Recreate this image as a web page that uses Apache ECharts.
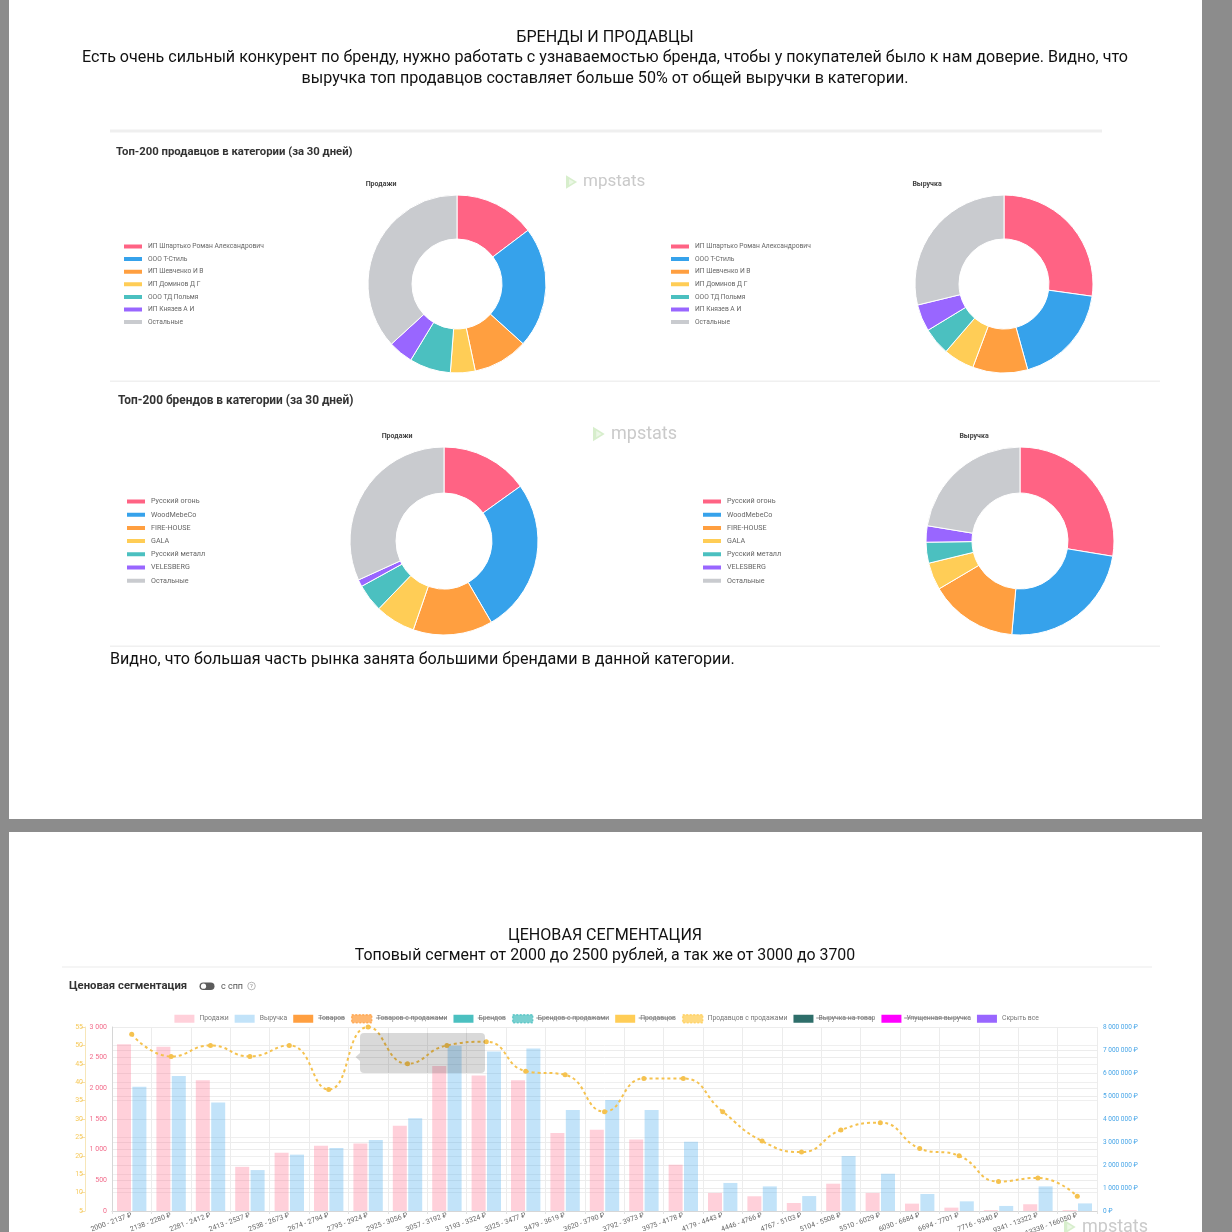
<!DOCTYPE html>
<html>
<head>
<meta charset="utf-8">
<script src="https://cdn.jsdelivr.net/npm/echarts@6.0.0/dist/echarts.min.js"></script>
<style>
html,body{margin:0;padding:0;background:#8c8c8c;}
#wrap{position:relative;width:1232px;height:1232px;overflow:hidden;background:#8c8c8c;}
.page{position:absolute;background:#fff;}
#chart{position:absolute;left:0;top:0;width:1232px;height:1232px;}
</style>
</head>
<body>
<div id="wrap">
  <div class="page" style="left:9px;top:0;width:1193px;height:819px"></div>
  <div class="page" style="left:9px;top:832px;width:1193px;height:400px"></div>
  <div id="chart"></div>
</div>
<script>
// ---------- DATA ----------
const pieColors = ['#FF6384', '#36A2EB', '#FF9F40', '#FFCD56', '#4BC0C0', '#9966FF', '#C9CBCF'];

const sellerNames = ['ИП Шпартько Роман Александрович', 'ООО Т-Стиль', 'ИП Шевченко И В', 'ИП Доминов Д Г', 'ООО ТД Польмя', 'ИП Князев А И', 'Остальные'];
const sellerSalesShare = [14.7, 22.0, 10.0, 4.5, 7.5, 4.5, 36.8];
const sellerRevenueShare = [27.2, 18.5, 10.0, 5.6, 5.0, 4.9, 28.8];

const brandNames = ['Русский огонь', 'WoodMebeCo', 'FIRE-HOUSE', 'GALA', 'Русский металл', 'VELESBERG', 'Остальные'];
const brandSalesShare = [15.1, 26.5, 13.7, 6.9, 4.8, 1.2, 31.8];
const brandRevenueShare = [27.6, 23.8, 15.1, 4.7, 3.6, 2.8, 22.4];

const priceRanges = ['2000 - 2137 ₽', '2138 - 2280 ₽', '2281 - 2412 ₽', '2413 - 2537 ₽', '2538 - 2673 ₽',
  '2674 - 2794 ₽', '2795 - 2924 ₽', '2925 - 3056 ₽', '3057 - 3192 ₽', '3193 - 3324 ₽', '3325 - 3477 ₽',
  '3479 - 3619 ₽', '3620 - 3790 ₽', '3792 - 3973 ₽', '3975 - 4178 ₽', '4179 - 4443 ₽', '4446 - 4766 ₽',
  '4767 - 5103 ₽', '5104 - 5508 ₽', '5510 - 6029 ₽', '6030 - 6684 ₽', '6694 - 7701 ₽', '7716 - 9340 ₽',
  '9341 - 13322 ₽', '13338 - 166050 ₽'];
const salesByRange = [2720, 2680, 2130, 720, 950, 1065, 1100, 1390, 2365, 2210, 2130, 1270, 1325, 1165, 755,
  295, 240, 130, 445, 295, 120, 55, 15, 110, 15];
const revenueByRange = [5400000, 5870000, 4720000, 1780000, 2450000, 2740000, 3090000, 4030000, 7190000,
  6930000, 7060000, 4390000, 4830000, 4390000, 3010000, 1220000, 1070000, 650000, 2390000, 1620000,
  740000, 420000, 220000, 1070000, 330000];
const sellersWithSales = [53, 47, 50, 47, 50, 38, 55, 45, 50, 51, 43, 42, 32, 41, 41, 32, 24, 21, 27, 29, 22, 20, 13, 14, 9];

const sellersTicks = {min: 5, max: 55, step: 5};
const salesTicks = {min: 0, max: 3000, step: 500};
const revenueTicks = {min: 0, max: 8000000, step: 1000000};

const segLegend = [
  {name: 'Продажи', color: 'rgba(255,99,132,0.3)', off: false},
  {name: 'Выручка', color: 'rgba(54,162,235,0.3)', off: false},
  {name: 'Товаров', color: '#FF9F40', off: true},
  {name: 'Товаров с продажами', color: '#FF9F40', dashed: true, off: true},
  {name: 'Брендов', color: '#4BC0C0', off: true},
  {name: 'Брендов с продажами', color: '#4BC0C0', dashed: true, off: true},
  {name: 'Продавцов', color: '#FFCD56', off: true},
  {name: 'Продавцов с продажами', color: '#FFCD56', dashed: true, off: false},
  {name: 'Выручка на товар', color: '#2E6E6A', off: true},
  {name: 'Упущенная выручка', color: '#FF00FF', off: true},
  {name: 'Скрыть все', color: '#9966FF', off: false}
];

// ---------- HELPERS ----------
const FONT = 'Roboto';
const BIG = 16.1;
function spaced(v) { return String(Math.round(v)).replace(/\B(?=(\d{3})+(?!\d))/g, ' '); }
function pieData(names, vals) {
  return names.map((n, i) => ({name: n, value: vals[i], itemStyle: {color: pieColors[i]}}));
}
function pieSeries(name, center, radius, names, vals) {
  return {
    type: 'pie', name: name, center: center, radius: radius, silent: true,
    startAngle: 90, clockwise: true,
    label: {show: false}, labelLine: {show: false},
    itemStyle: {borderColor: '#fff', borderWidth: 1},
    emphasis: {disabled: true},
    data: pieData(names, vals)
  };
}
function pieLegend(left, top, names, gap, fs) {
  return {
    orient: 'vertical', left: left, top: top, padding: 0, icon: 'rect',
    itemWidth: 20, itemHeight: 6, itemGap: gap, selectedMode: false,
    textStyle: {fontSize: fs, color: '#666', lineHeight: 8, fontFamily: FONT},
    data: names
  };
}

// measure legend texts for the strike-through lines
const LEG_FS = 6.8, LEG_TOP = 1014, LEG_IW = 20, LEG_IH = 8, LEG_GAP = 6, LEG_CENTER = 605.5;
const mctx = document.createElement('canvas').getContext('2d');
mctx.font = LEG_FS + 'px ' + FONT;
const widths = segLegend.map(it => mctx.measureText(it.name).width);
const totalW = widths.reduce((s, w) => s + LEG_IW + 5 + w, 0) + LEG_GAP * (segLegend.length - 1);
const LEG_LEFT = LEG_CENTER - totalW / 2;
let cx = LEG_LEFT;
const strikes = [];
segLegend.forEach((it, i) => {
  const tx = cx + LEG_IW + 5;
  if (it.off) {
    strikes.push({type: 'line', z: 50, silent: true,
      shape: {x1: tx, y1: LEG_TOP + LEG_IH / 2, x2: tx + widths[i], y2: LEG_TOP + LEG_IH / 2},
      style: {stroke: '#777', lineWidth: 0.8}});
  }
  cx = tx + widths[i] + LEG_GAP;
});

function txt(x, y, text, size, opts) {
  opts = opts || {};
  return {type: 'text', x: x, y: y, z: 20, silent: true,
    style: {text: text, fill: opts.fill || '#111', fontSize: size, fontFamily: FONT,
      fontWeight: opts.bold ? 'bold' : 'normal', align: opts.align || 'left', verticalAlign: 'middle'}};
}
function watermark(x, y, size) {
  return [
    {type: 'polygon', z: 20, silent: true, shape: {points: [[x, y - size * 0.4], [x + size * 0.65, y], [x, y + size * 0.4]]},
      style: {fill: 'rgba(140,205,110,0.35)'}},
    {type: 'polygon', z: 20, silent: true, shape: {points: [[x + size * 0.18, y - size * 0.18], [x + size * 0.48, y], [x + size * 0.18, y + size * 0.18]]},
      style: {fill: 'rgba(255,255,255,0.5)'}},
    txt(x + size * 1.0, y, 'mpstats', size, {fill: '#cacaca'})
  ];
}

// ---------- GRAPHIC ----------
const graphics = [
  txt(605, 38, 'БРЕНДЫ И ПРОДАВЦЫ', BIG, {align: 'center'}),
  txt(605, 58, 'Есть очень сильный конкурент по бренду, нужно работать с узнаваемостью бренда, чтобы у покупателей было к нам доверие. Видно, что', BIG, {align: 'center'}),
  txt(605, 79, 'выручка топ продавцов составляет больше 50% от общей выручки в категории.', BIG, {align: 'center'}),
  {type: 'rect', z: 1, silent: true, shape: {x: 110, y: 129.5, width: 992, height: 3}, style: {fill: '#efefef'}},
  txt(116, 152, 'Топ-200 продавцов в категории (за 30 дней)', 11.3, {bold: true, fill: '#333'}),
  txt(381, 184, 'Продажи', 7, {bold: true, fill: '#444', align: 'center'}),
  txt(927, 184, 'Выручка', 7, {bold: true, fill: '#444', align: 'center'}),
  {type: 'rect', z: 1, silent: true, shape: {x: 110, y: 380.5, width: 1050, height: 1.5}, style: {fill: '#f0f0f0'}},
  txt(118, 401, 'Топ-200 брендов в категории (за 30 дней)', 11.9, {bold: true, fill: '#333'}),
  txt(397, 436, 'Продажи', 7, {bold: true, fill: '#444', align: 'center'}),
  txt(974, 436, 'Выручка', 7, {bold: true, fill: '#444', align: 'center'}),
  {type: 'rect', z: 1, silent: true, shape: {x: 110, y: 645.5, width: 1050, height: 1.5}, style: {fill: '#f0f0f0'}},
  txt(110, 660, 'Видно, что большая часть рынка занята большими брендами в данной категории.', BIG),
  txt(605, 936, 'ЦЕНОВАЯ СЕГМЕНТАЦИЯ', BIG, {align: 'center'}),
  txt(605, 956, 'Топовый сегмент от 2000 до 2500 рублей, а так же от 3000 до 3700', 15.9, {align: 'center'}),
  {type: 'rect', z: 1, silent: true, shape: {x: 62, y: 966.5, width: 1090, height: 1}, style: {fill: '#ececec'}},
  txt(69, 986, 'Ценовая сегментация', 11.3, {bold: true, fill: '#333'}),
  {type: 'rect', z: 20, silent: true, shape: {x: 199.5, y: 982.5, width: 15, height: 7.5, r: 3.75}, style: {fill: '#5c5c5c'}},
  {type: 'circle', z: 21, silent: true, shape: {cx: 203.5, cy: 986.2, r: 2.6}, style: {fill: '#fff'}},
  txt(221, 986.5, 'с спп', 9, {fill: '#555'}),
  {type: 'circle', z: 20, silent: true, shape: {cx: 251.5, cy: 986, r: 3.8}, style: {fill: 'none', stroke: '#999', lineWidth: 0.7}},
  txt(251.5, 986.2, '?', 6, {fill: '#888', align: 'center'}),
  {type: 'rect', z: 100, silent: true, shape: {x: 360, y: 1033, width: 125, height: 40, r: 4}, style: {fill: 'rgba(0,0,0,0.15)'}},
  {type: 'polygon', z: 100, silent: true, shape: {points: [[360, 1053], [355.5, 1057], [360, 1061]]}, style: {fill: 'rgba(0,0,0,0.15)'}}
].concat(watermark(566, 182, 17), watermark(593, 434, 18), watermark(1064, 1227, 18), strikes);

// ---------- OPTION ----------
const option = {
  animation: false,
  backgroundColor: 'transparent',
  textStyle: {fontFamily: FONT},
  graphic: graphics,
  legend: [
    pieLegend(122, 242.5, sellerNames, 4.6, 6.7),
    pieLegend(669, 242.5, sellerNames, 4.6, 6.7),
    pieLegend(125, 497.5, brandNames, 5.2, 7.2),
    pieLegend(701, 497.5, brandNames, 5.2, 7.2),
    {
      orient: 'horizontal', left: LEG_LEFT, top: LEG_TOP, padding: 0, icon: 'rect',
      itemWidth: LEG_IW, itemHeight: LEG_IH, itemGap: LEG_GAP, selectedMode: false,
      textStyle: {fontSize: LEG_FS, color: '#777', fontFamily: FONT},
      data: segLegend.map(it => ({
        name: it.name,
        itemStyle: it.dashed
          ? {color: it.color, opacity: 0.75, borderColor: it.color, borderWidth: 1.5, borderType: [2, 1.5]}
          : {color: it.color, borderWidth: 0}
      }))
    }
  ],
  grid: {left: 112, right: 135, top: 1027, bottom: 21, containLabel: false, outerBoundsMode: 'none'},
  xAxis: {
    type: 'category', data: priceRanges, boundaryGap: true,
    axisLine: {show: true, lineStyle: {color: '#d6d6d6'}},
    axisTick: {show: true, length: 3, lineStyle: {color: '#e2e2e2'}},
    axisLabel: {interval: 0, rotate: 20, fontSize: 7, color: '#666', margin: 4},
    splitLine: {show: true, interval: 0, lineStyle: {color: '#ececec'}}
  },
  yAxis: [
    {
      type: 'value', position: 'left', offset: 27,
      min: sellersTicks.min, max: sellersTicks.max, interval: sellersTicks.step,
      axisLine: {show: true, lineStyle: {color: '#f7e6b8'}},
      axisTick: {show: true, length: 4, lineStyle: {color: '#f7e0a8'}},
      axisLabel: {fontSize: 7, color: '#f6c95a', margin: 2},
      splitLine: {show: true, lineStyle: {color: '#efefef'}}
    },
    {
      type: 'value', position: 'left', offset: 0,
      min: salesTicks.min, max: salesTicks.max, interval: salesTicks.step,
      axisLine: {show: true, lineStyle: {color: '#d6d6d6'}},
      axisTick: {show: false},
      axisLabel: {fontSize: 7, color: '#f26d8c', margin: 5, formatter: v => spaced(v)},
      splitLine: {show: true, lineStyle: {color: '#ececec'}}
    },
    {
      type: 'value', position: 'right', offset: 0,
      min: revenueTicks.min, max: revenueTicks.max, interval: revenueTicks.step,
      axisLine: {show: false},
      axisTick: {show: false},
      axisLabel: {fontSize: 6.5, color: '#48a6e8', margin: 6, formatter: v => spaced(v) + ' ₽'},
      splitLine: {show: true, lineStyle: {color: '#ececec'}}
    }
  ],
  series: [
    pieSeries('Продажи продавцов', [457, 284], [45, 89], sellerNames, sellerSalesShare),
    pieSeries('Выручка продавцов', [1004, 284], [45, 89], sellerNames, sellerRevenueShare),
    pieSeries('Продажи брендов', [444, 541], [48, 94], brandNames, brandSalesShare),
    pieSeries('Выручка брендов', [1020, 541], [48, 94], brandNames, brandRevenueShare),
    {
      name: 'Продажи', type: 'bar', yAxisIndex: 1, data: salesByRange,
      barWidth: 14, barGap: '10%', silent: true,
      itemStyle: {color: 'rgba(255,99,132,0.3)'}
    },
    {
      name: 'Выручка', type: 'bar', yAxisIndex: 2, data: revenueByRange,
      barWidth: 14, barGap: '10%', silent: true,
      itemStyle: {color: 'rgba(54,162,235,0.3)'}
    },
    {
      name: 'Продавцов с продажами', type: 'line', yAxisIndex: 0, data: sellersWithSales,
      smooth: 0.5, symbol: 'circle', symbolSize: 5, silent: true, z: 5,
      itemStyle: {color: '#f5c24f'},
      lineStyle: {color: '#f5c24f', width: 2, type: [3, 3]}
    }
  ].concat(segLegend.filter(it => ['Продажи', 'Выручка', 'Продавцов с продажами'].indexOf(it.name) < 0)
    .map(it => ({name: it.name, type: 'line', yAxisIndex: 0, data: [], itemStyle: {color: it.color}})))
};

const chart = echarts.init(document.getElementById('chart'), null, {renderer: 'canvas'});
chart.setOption(option);
</script>
</body>
</html>
